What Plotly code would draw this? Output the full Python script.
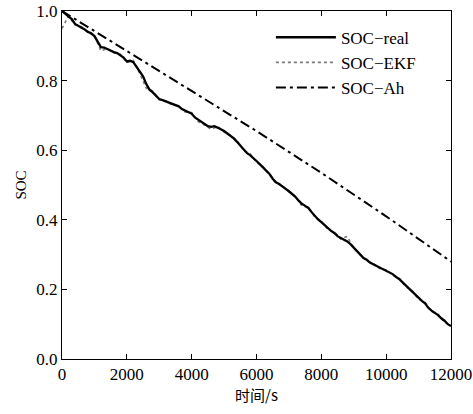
import plotly.graph_objects as go

# time axis (s)
t_real = [i * 100 for i in range(121)]
soc_real = [
    1.000, 0.992, 0.983, 0.977, 0.963, 0.958, 0.951, 0.947, 0.940, 0.936,
    0.928, 0.910, 0.896, 0.895, 0.890, 0.887, 0.882, 0.879, 0.873, 0.866,
    0.855, 0.857, 0.853, 0.838, 0.824, 0.812, 0.790, 0.774, 0.766, 0.756,
    0.747, 0.744, 0.740, 0.738, 0.733, 0.729, 0.726, 0.718, 0.713, 0.710,
    0.705, 0.694, 0.688, 0.681, 0.675, 0.669, 0.667, 0.669, 0.665, 0.661,
    0.655, 0.648, 0.641, 0.634, 0.624, 0.613, 0.603, 0.592, 0.586, 0.576,
    0.569, 0.560, 0.550, 0.541, 0.532, 0.518, 0.508, 0.503, 0.495, 0.489,
    0.482, 0.474, 0.466, 0.455, 0.446, 0.440, 0.434, 0.422, 0.410, 0.401,
    0.393, 0.384, 0.375, 0.368, 0.362, 0.353, 0.348, 0.344, 0.338, 0.330,
    0.320, 0.309, 0.298, 0.290, 0.285, 0.277, 0.272, 0.267, 0.263, 0.257,
    0.253, 0.248, 0.244, 0.236, 0.230, 0.221, 0.212, 0.201, 0.192, 0.184,
    0.176, 0.167, 0.160, 0.147, 0.139, 0.133, 0.126, 0.117, 0.110, 0.100,
    0.095,
]

t_ekf = [i * 200 for i in range(61)]
soc_ekf = [
    0.950, 0.985, 0.960, 0.955, 0.938, 0.930, 0.885, 0.892, 0.880, 0.876,
    0.852, 0.858, 0.820, 0.778, 0.770, 0.745, 0.742, 0.730, 0.728, 0.710,
    0.708, 0.682, 0.672, 0.660, 0.668, 0.652, 0.643, 0.627, 0.600, 0.590,
    0.565, 0.553, 0.530, 0.505, 0.498, 0.480, 0.468, 0.440, 0.436, 0.408,
    0.396, 0.372, 0.365, 0.345, 0.352, 0.318, 0.300, 0.282, 0.275, 0.260,
    0.256, 0.241, 0.233, 0.208, 0.196, 0.172, 0.163, 0.136, 0.129, 0.106,
    0.098,
]

t_ah = [0, 2000, 4000, 6000, 8000, 10000, 12000]
soc_ah = [1.0, 0.885, 0.772, 0.655, 0.535, 0.410, 0.280]

x_ticks = [0, 2000, 4000, 6000, 8000, 10000, 12000]
y_ticks = [0.0, 0.2, 0.4, 0.6, 0.8, 1.0]

FONT = "Times New Roman, Liberation Serif, serif"

fig = go.Figure()
fig.add_trace(go.Scatter(
    x=t_ekf, y=soc_ekf, mode="lines", name="SOC\u2212EKF", legendrank=2,
    line=dict(color="#7a7a7a", width=1.6, dash="dot"),
))
fig.add_trace(go.Scatter(
    x=t_real, y=soc_real, mode="lines", name="SOC\u2212real", legendrank=1,
    line=dict(color="black", width=2.3),
))
fig.add_trace(go.Scatter(
    x=t_ah, y=soc_ah, mode="lines", name="SOC\u2212Ah", legendrank=3,
    line=dict(color="black", width=2, dash="10px,4px,3px,4px"),
))

fig.update_layout(
    width=473, height=414,
    margin=dict(l=62, r=22, t=11, b=55, autoexpand=False),
    paper_bgcolor="white", plot_bgcolor="white",
    font=dict(family=FONT, size=17, color="black"),
    showlegend=True,
    legend=dict(
        x=0.537, y=0.975, xanchor="left", yanchor="top",
        bgcolor="rgba(0,0,0,0)", borderwidth=0,
        font=dict(family=FONT, size=17, color="black"),
        itemwidth=60, tracegroupgap=0,
    ),
    xaxis=dict(
        range=[0, 12000], tickvals=x_ticks, ticktext=[str(v) for v in x_ticks],
        showgrid=False, zeroline=False, automargin=False,
        showline=True, linecolor="black", linewidth=1, mirror="allticks",
        ticks="inside", ticklen=5, tickcolor="black",
        tickfont=dict(family=FONT, size=17),
        title=dict(text="时间/s", font=dict(family="Noto Sans CJK SC", size=15), standoff=4),
    ),
    yaxis=dict(
        range=[0, 1.0], tickvals=y_ticks, tickformat=".1f",
        showgrid=False, zeroline=False, automargin=False,
        showline=True, linecolor="black", linewidth=1, mirror="allticks",
        ticks="inside", ticklen=5, tickcolor="black",
        tickfont=dict(family=FONT, size=17),
        title=dict(text="SOC", font=dict(family=FONT, size=15), standoff=6),
    ),
)

fig.write_html(
    "out.html",
    config={"displayModeBar": False},
    post_script="document.body.style.margin='0';",
)
